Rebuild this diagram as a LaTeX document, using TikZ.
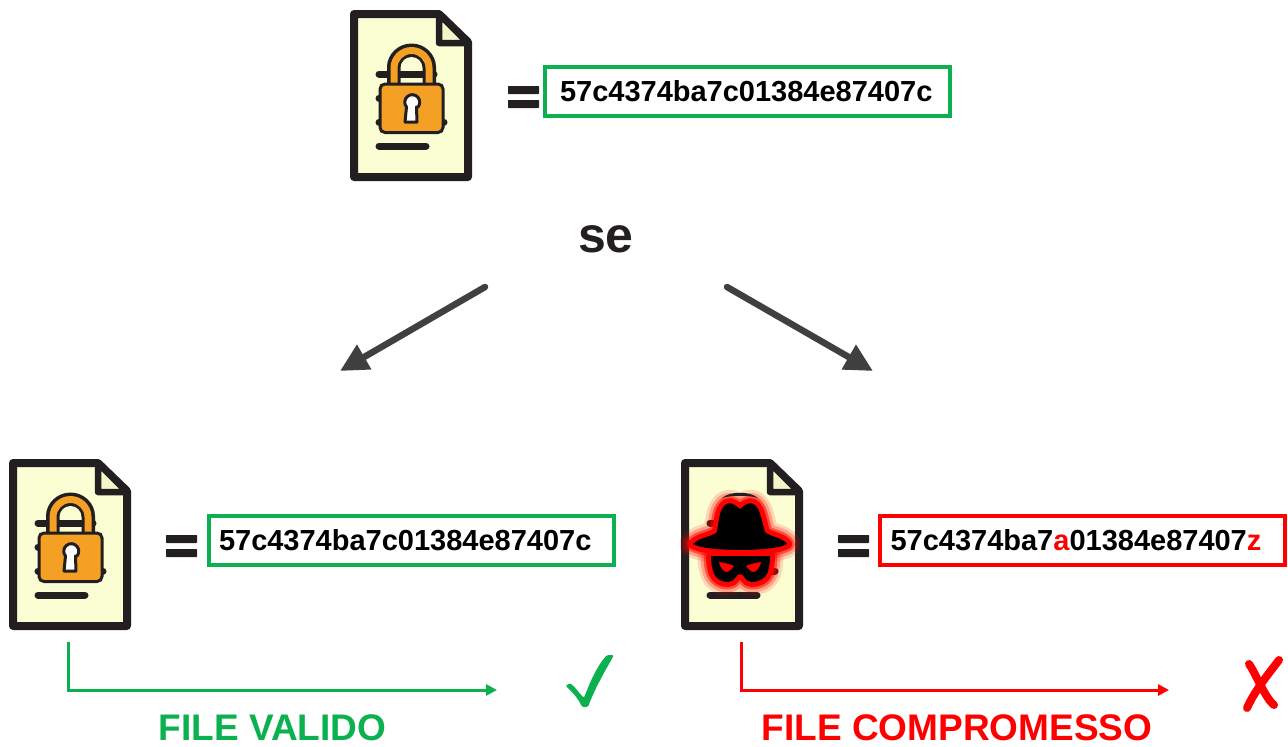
\documentclass[tikz,border=0pt]{standalone}
\usepackage{fontspec}
\setmainfont{Liberation Sans}
\usetikzlibrary{arrows.meta}
\definecolor{ink}{HTML}{231F20}
\definecolor{paper}{HTML}{FBFDD3}
\definecolor{foldc}{HTML}{F4F6C8}
\definecolor{lockc}{HTML}{F4A024}
\definecolor{okgreen}{HTML}{0BB04F}
\definecolor{arrowc}{HTML}{404040}
\tikzset{
  docshell/.pic={
    \draw[ink,line width=8pt,fill=paper,line join=round] (354,14) -- (439,14) -- (468,42) -- (468,177) -- (354,177) -- cycle;
    \draw[ink,line width=6.5pt,fill=foldc,line join=round] (439,14) -- (439,43) -- (468,43) -- cycle;
    \draw[ink,line width=7pt,line cap=round] (379,146) -- (426,146);
  },
  docbars/.pic={
    \draw[ink,line width=7pt,line cap=round] (379,74) -- (434,74);
    \draw[ink,line width=7pt,line cap=round] (379,98) -- (400,98);
    \draw[ink,line width=7pt,line cap=round] (379,122) -- (444,122);
  },
  padlock/.pic={
    \fill[ink,rounded corners=1pt] (387,86) -- (387,68) arc[start angle=180,end angle=0,x radius=24.5pt,y radius=24.5pt] -- (436,86) -- cycle;
    \fill[lockc] (390.5,86) -- (390.5,68) arc[start angle=180,end angle=0,x radius=21pt,y radius=21pt] -- (432.5,86) -- (425.5,86) -- (425.5,68) arc[start angle=0,end angle=180,x radius=14pt,y radius=14pt] -- (397.5,86) -- cycle;
    \fill[paper] (400.5,83) -- (400.5,68) arc[start angle=180,end angle=0,x radius=11pt,y radius=11pt] -- (422.5,83) -- cycle;
    \draw[ink,line width=7pt,line cap=butt] (400,74) -- (423,74);
    \draw[ink,line width=3pt,fill=lockc,rounded corners=5pt] (380,84) rectangle (443,132.5);
    \draw[ink,line width=3pt,fill=white,line join=round] (405,122) -- (406.5,107) arc[start angle=220,end angle=-40,radius=7.5pt] -- (416.5,107) -- (417,122) -- cycle;
  },
  hashbox/.style={draw,line width=4pt,minimum width=405pt,minimum height=49pt,inner sep=0pt,text=black,font=\fontsize{29}{32}\selectfont\bfseries,text height=20.5pt,text depth=0pt},
  equalbar/.style={fill=ink,rounded corners=.6pt},
  bigarrow/.style={draw=arrowc,line width=6.5pt,line cap=round,-{Triangle[length=28pt,width=27pt]}},
  verdict/.style={line width=3pt,-{Triangle[length=11pt,width=11pt]}},
  verdicttext/.style={font=\fontsize{37}{40}\selectfont\bfseries,inner sep=0pt},
  glowA/.style={red,line width=27pt,opacity=.15,line join=round,line cap=round},
  glowB/.style={red,line width=21pt,opacity=.25,line join=round,line cap=round},
  glowD/.style={red,line width=15pt,opacity=.5,line join=round,line cap=round},
  glowC/.style={red,line width=10pt,line join=round,line cap=round},
}
\newcommand{\hashtext}[2]{\makebox[405pt][l]{\hspace{#1pt}#2}}
\newcommand{\hatpath}{(693,544) .. controls (700,537) and (712,537) .. (717,532) .. controls (719,518) and (720,510) .. (724,506) .. controls (729,501) and (733,503) .. (740,509) .. controls (747,503) and (751,501) .. (756,506) .. controls (760,510) and (761,518) .. (765,532) .. controls (770,537) and (782,537) .. (787,544) .. controls (775,552) and (705,552) .. (693,544) -- cycle}
\newcommand{\maskpath}{(711,556) -- (770,556) .. controls (770,565) and (768,574) .. (765,577) .. controls (760,582) and (752,583) .. (748,581) .. controls (745,579) and (743,574) .. (740,574) .. controls (737,574) and (735,579) .. (732,581) .. controls (728,583) and (720,582) .. (716,577) .. controls (713,574) and (711,565) .. (711,556) -- cycle}
\begin{document}
\begin{tikzpicture}[x=1pt,y=-1pt]
\useasboundingbox (0,0) rectangle (1288,747);
% top document
\pic at (0,0) {docshell};
\pic at (0,0) {docbars};
\pic at (0,0) {padlock};
\fill[equalbar] (508,86) rectangle (539,94);
\fill[equalbar] (508,100) rectangle (539,108);
\node[hashbox,draw=okgreen] (hashtop) at (747.5,91.5) {\hashtext{15}{57c4374ba7c01384e87407c}};
% se
\node[font=\fontsize{50}{54}\selectfont\bfseries,text=ink,inner sep=0pt,anchor=base] (se) at (606,252) {se};
\coordinate (aLs) at (485,287);
\coordinate (aLe) at (340,371);
\coordinate (aRs) at (727,287);
\coordinate (aRe) at (873,371);
\draw[bigarrow] (aLs) -- (aLe);
\draw[bigarrow] (aRs) -- (aRe);
% left document
\pic at (-341,449) {docshell};
\pic at (-341,449) {docbars};
\pic at (-341,449) {padlock};
\fill[equalbar] (166,535) rectangle (197,543);
\fill[equalbar] (166,549) rectangle (197,557);
\node[hashbox,draw=okgreen] (hashleft) at (411.5,540.5) {\hashtext{10}{57c4374ba7c01384e87407c}};
% right document
\pic at (331,449) {docshell};
\begin{scope}[shift={(331,449)}]
\draw[ink,line width=7pt,line cap=round] (379,74) -- (385,74);
\draw[ink,line width=7pt,line cap=round] (436,122) -- (444,122);
\end{scope}
\draw[glowA] \hatpath;
\draw[glowB] \hatpath;
\draw[glowD] \hatpath;
\draw[glowC] \hatpath;
\draw[glowA] \maskpath;
\draw[glowB] \maskpath;
\draw[glowD] \maskpath;
\draw[glowC] \maskpath;
\fill[ink] (722,498) .. controls (730,491) and (750,491) .. (758,498) .. controls (750,495) and (730,495) .. (722,498) -- cycle;
\fill[black] \hatpath;
\fill[black] \maskpath;
\fill[red] (719,562) .. controls (725,563) and (730,564) .. (734,566) .. controls (731,570) and (728,572) .. (726,572) .. controls (723,571) and (720,567) .. (719,562) -- cycle;
\fill[red] (761,562) .. controls (755,563) and (750,564) .. (746,566) .. controls (749,570) and (752,572) .. (754,572) .. controls (757,571) and (760,567) .. (761,562) -- cycle;
\fill[equalbar] (838,535) rectangle (869,543);
\fill[equalbar] (838,549) rectangle (869,557);
\node[hashbox,draw=red] (hashright) at (1082,540.5) {\hashtext{11}{57c4374ba7\textcolor{red}{a}01384e87407\textcolor{red}{z}}};
% verdict arrows
\coordinate (gs) at (68,642);
\coordinate (gc) at (68,690);
\coordinate (ge) at (497,690);
\coordinate (rs) at (741,642);
\coordinate (rc) at (741,690);
\coordinate (re) at (1169,690);
\draw[verdict,okgreen] (gs) -- (gc) -- (ge);
\draw[verdict,red] (rs) -- (rc) -- (re);
\node[verdicttext,text=okgreen] (fv) at (272.5,728) {FILE VALIDO};
\node[verdicttext,text=red] (fc) at (957,728) {FILE COMPROMESSO};
% check mark
\fill[okgreen,rounded corners=1.5pt] (566,686) -- (570,683) .. controls (576,688) and (580,694) .. (584,698) .. controls (590,682) and (597,666) .. (607,655) -- (614,655) .. controls (605,671) and (595,688) .. (588,707) -- (582,707) .. controls (578,698) and (572,692) .. (566,686) -- cycle;
% cross
\coordinate (xa) at (1249,664);
\coordinate (xb) at (1274,705);
\coordinate (xc) at (1279,660);
\coordinate (xd) at (1247,708);
\draw[red,line width=8pt,line cap=round] (xa) .. controls (1255,672) and (1265,698) .. (xb);
\draw[red,line width=8pt,line cap=round] (xc) .. controls (1270,672) and (1255,690) .. (xd);
\end{tikzpicture}
\end{document}
